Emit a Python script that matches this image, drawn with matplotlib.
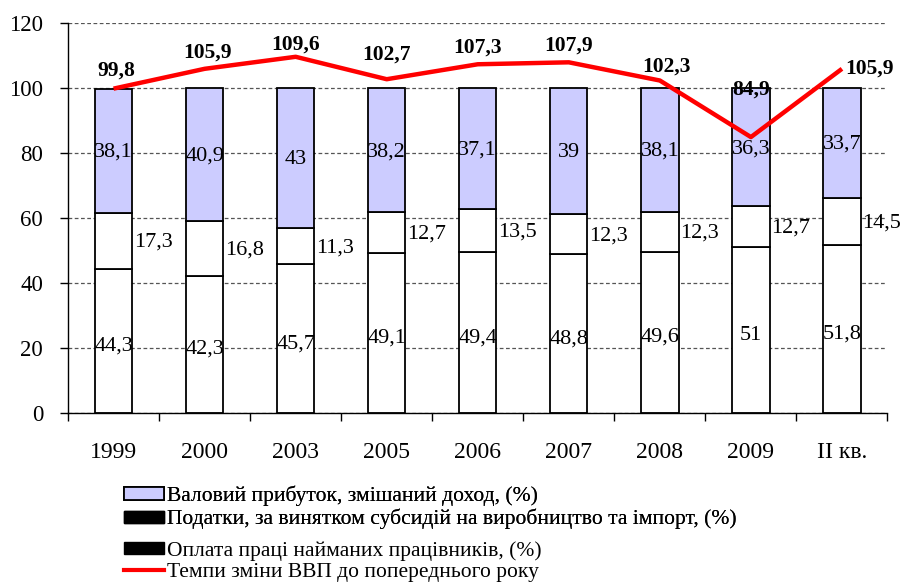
import matplotlib.pyplot as plt
from matplotlib.patches import Patch
from matplotlib.lines import Line2D
import numpy as np

plt.rcParams['font.family'] = ['Liberation Serif', 'DejaVu Serif']

categories = ["1999", "2000", "2003", "2005", "2006", "2007", "2008", "2009", "II кв."]
wages = [44.3, 42.3, 45.7, 49.1, 49.4, 48.8, 49.6, 51, 51.8]
taxes = [17.3, 16.8, 11.3, 12.7, 13.5, 12.3, 12.3, 12.7, 14.5]
profit = [38.1, 40.9, 43, 38.2, 37.1, 39, 38.1, 36.3, 33.7]
gdp_growth = [99.8, 105.9, 109.6, 102.7, 107.3, 107.9, 102.3, 84.9, 105.9]

legend_labels = [
    "Валовий прибуток, змішаний доход, (%)",
    "Податки, за винятком субсидій на виробництво та імпорт, (%)",
    "Оплата праці найманих працівників, (%)",
    "Темпи зміни ВВП до попереднього року",
]


def fmt(v):
    s = f"{v:g}"
    return s.replace(".", ",")


fig = plt.figure(figsize=(9.07, 5.85), dpi=100)
ax = fig.add_axes([0.075, 0.294, 0.9035, 0.6667])

x = np.arange(len(categories))
w = 0.41
wages = np.array(wages)
taxes = np.array(taxes)
profit = np.array(profit)

ax.bar(x, wages, w, color="white", edgecolor="black", linewidth=1.3, zorder=2)
ax.bar(x, taxes, w, bottom=wages, color="white", edgecolor="black", linewidth=1.3, zorder=2)
ax.bar(x, profit, w, bottom=wages + taxes, color="#CCCCFF", edgecolor="black", linewidth=1.3, zorder=2)

ax.plot(x, gdp_growth, color="red", linewidth=3.2, zorder=4, solid_capstyle="butt")

for i in range(len(x)):
    ax.text(x[i], wages[i] / 2 - 1.5, fmt(wages[i]), ha="center", va="center", fontsize=16, zorder=5)
    ax.text(x[i] + w / 2 + 0.02, wages[i] + taxes[i] / 2 - 0.5, fmt(taxes[i]),
            ha="left", va="center", fontsize=16, zorder=5)
    ax.text(x[i], wages[i] + taxes[i] + profit[i] / 2 - 0.5, fmt(profit[i]),
            ha="center", va="center", fontsize=16, zorder=5)

# offsets (points) for the growth labels
offsets = [(2, 13), (2, 12), (0, 9), (0, 18), (0, 12), (0, 12), (5, 10), (0, 34), (20, 0)]
for i in range(len(x)):
    dx, dy = offsets[i]
    ax.annotate(fmt(gdp_growth[i]), (x[i], gdp_growth[i]), xytext=(dx, dy),
                textcoords="offset points", ha="center", va="center",
                fontsize=15.5, fontweight="bold", zorder=6)

ax.set_ylim(0, 120)
ax.set_xlim(-0.5, len(categories) - 0.5)
ax.set_yticks(range(0, 121, 20))
ax.yaxis.grid(True, linestyle=(0, (3, 2)), color="#555555", linewidth=0.9, zorder=0)
ax.set_axisbelow(True)

ax.set_xticks(np.arange(-0.5, len(categories), 1))
ax.set_xticklabels([])
ax.set_xticks(x, minor=True)
ax.set_xticklabels(categories, minor=True, fontsize=17)
ax.tick_params(axis="x", which="major", direction="out", length=6, width=1)
ax.tick_params(axis="x", which="minor", length=0, pad=21)
ax.tick_params(axis="y", direction="out", length=6, width=1, labelsize=16.5, pad=12)

for s in ["top", "right"]:
    ax.spines[s].set_visible(False)
ax.spines["left"].set_linewidth(1)
ax.spines["bottom"].set_linewidth(1)

handles = [
    Patch(facecolor="#CCCCFF", edgecolor="black", linewidth=1.3),
    Patch(facecolor="black", edgecolor="black"),
    Patch(facecolor="black", edgecolor="black"),
    Line2D([0], [0], color="red", linewidth=3),
]
leg_kw = dict(frameon=False, fontsize=15.5, handlelength=1.85, handleheight=0.5,
              handletextpad=0.15, labelspacing=0.12, borderaxespad=0, borderpad=0)
leg1 = fig.legend(handles[:2], legend_labels[:2], loc="center left",
                  bbox_to_anchor=(0.137, 0.1325), **leg_kw)
fig.add_artist(leg1)
fig.legend(handles[2:], legend_labels[2:], loc="center left",
           bbox_to_anchor=(0.137, 0.040), **leg_kw)

fig.savefig("out.png", dpi=100)
